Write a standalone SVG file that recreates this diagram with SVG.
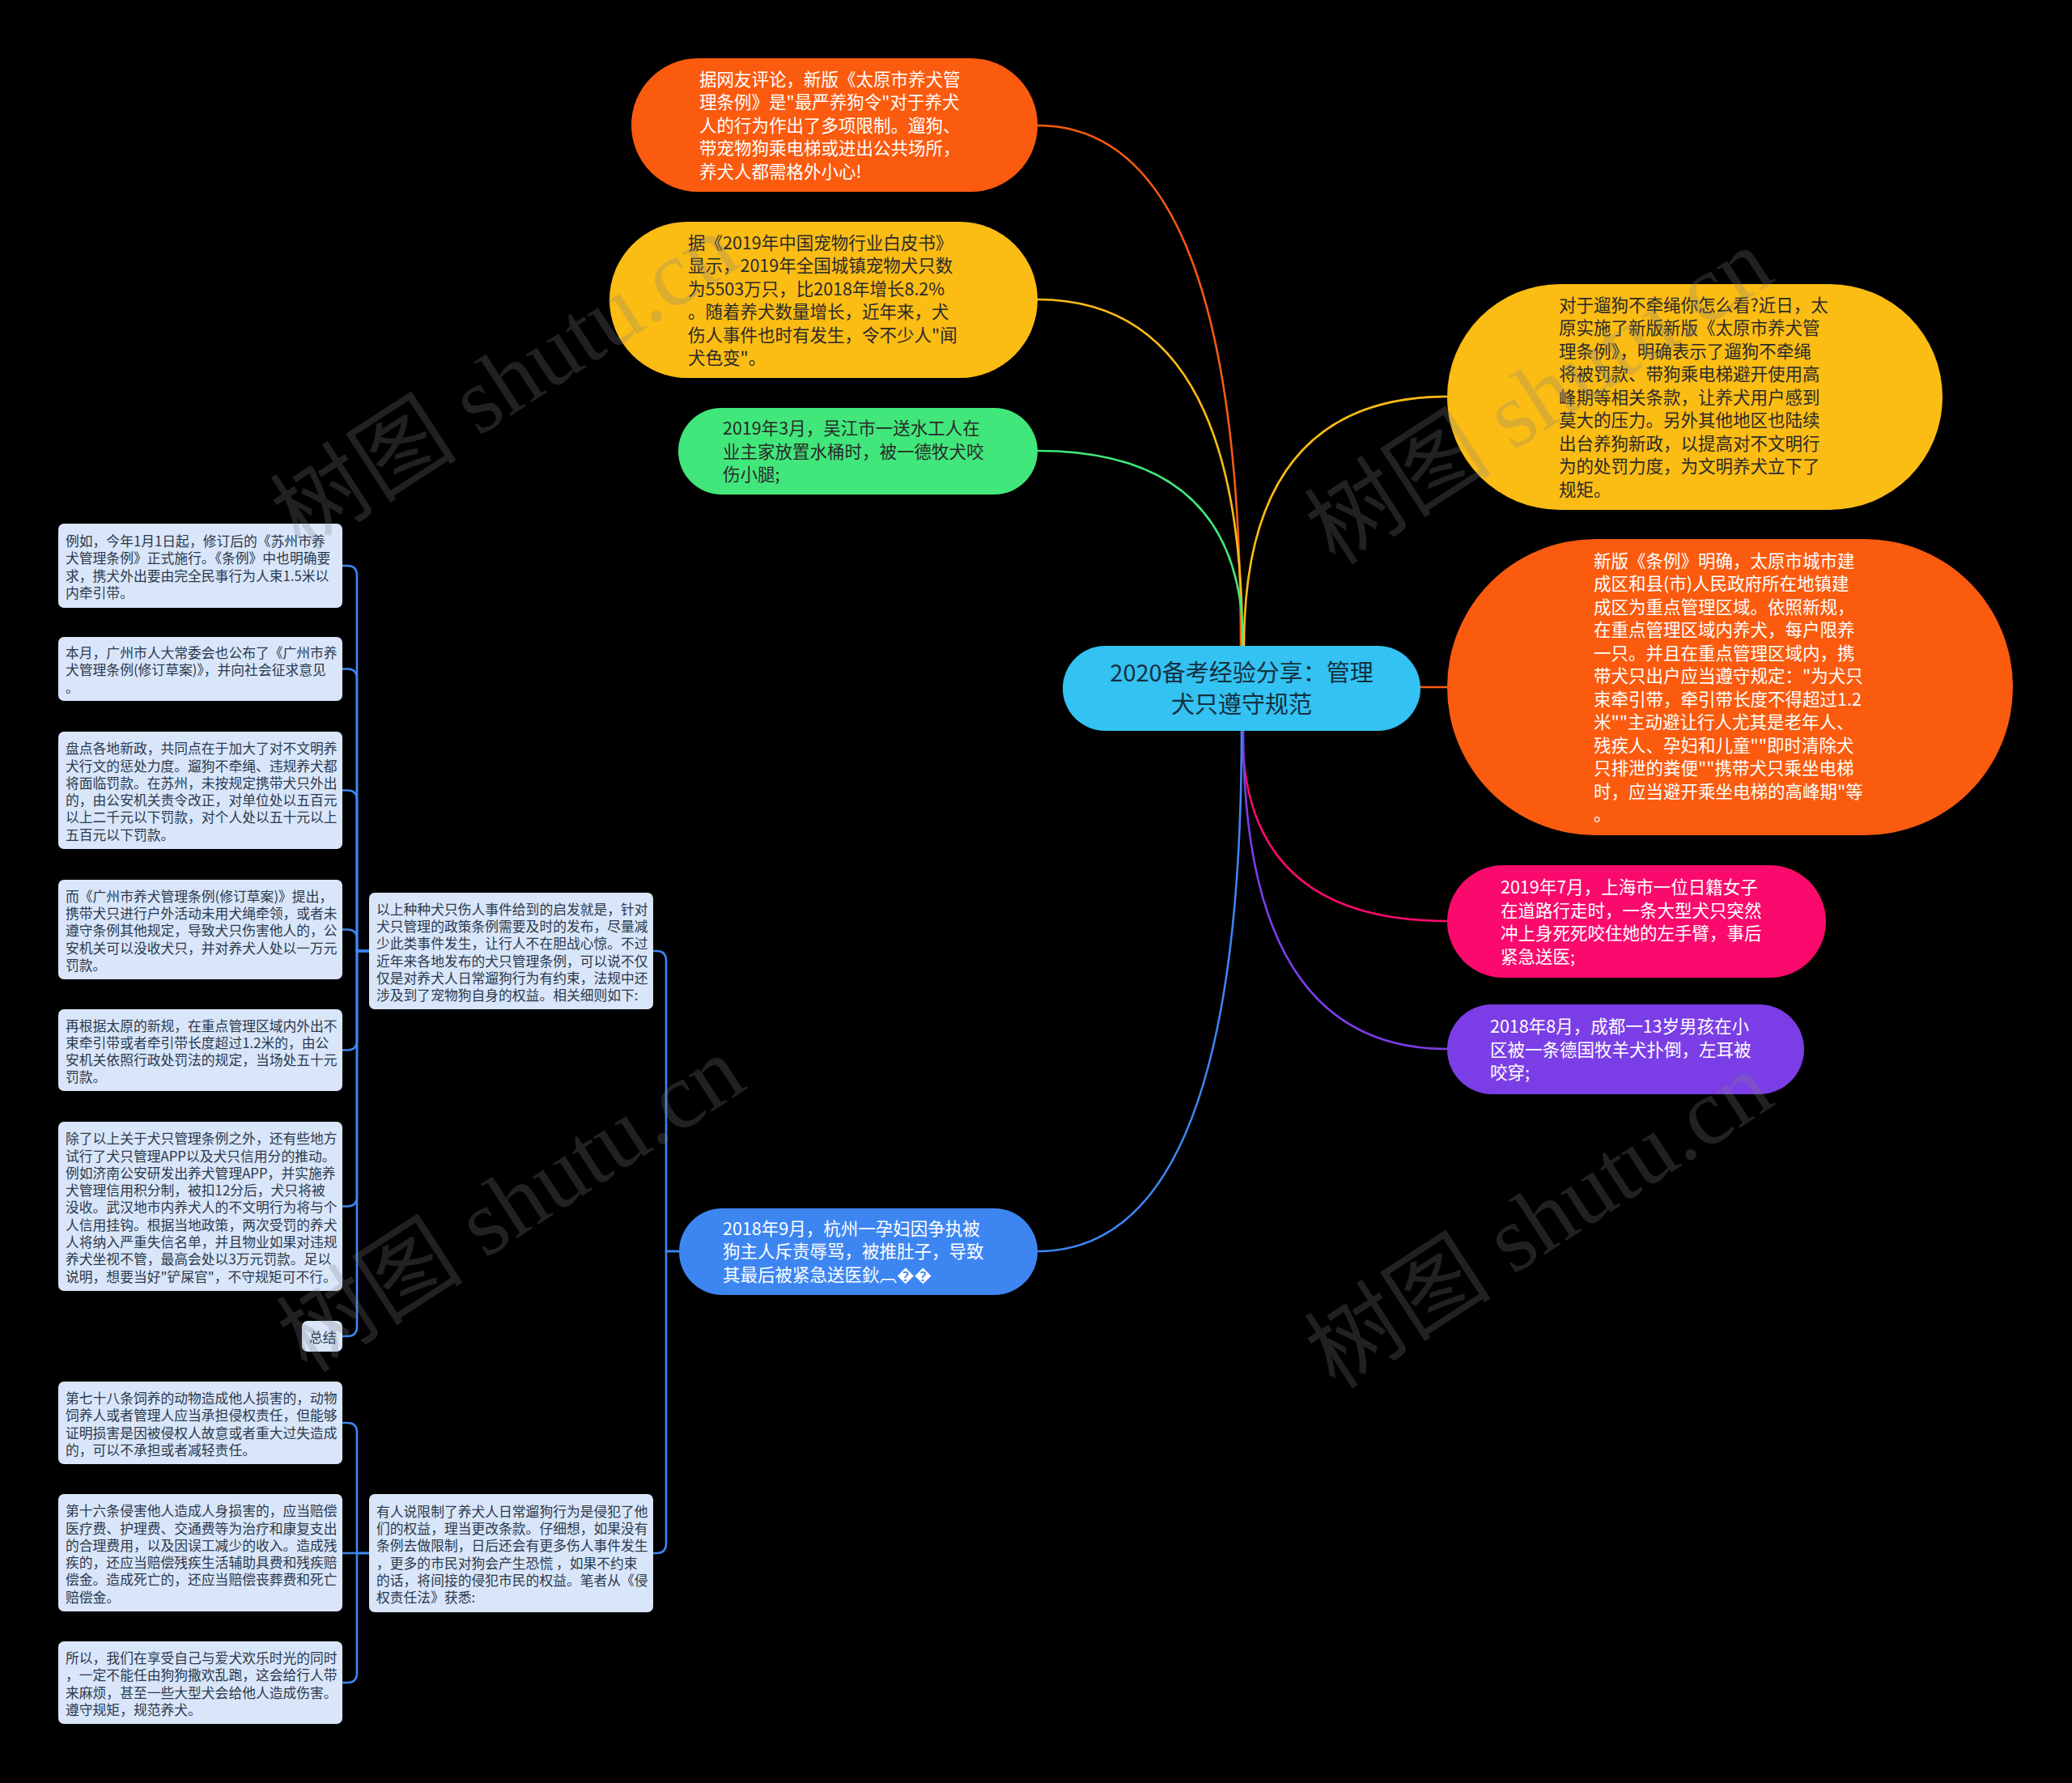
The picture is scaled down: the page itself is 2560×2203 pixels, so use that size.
<svg xmlns="http://www.w3.org/2000/svg" width="2560" height="2203" viewBox="0 0 2560 2203">
<style>
.t{font-family:"Noto Sans CJK SC","Noto Sans",sans-serif}
.big{font-size:21.5px}
.sm{font-size:16.8px;fill:#2b394c}
.lb{fill:#d9e6fa}
.w{fill:#ffffff}
.d{fill:#2a2a2a}
.c{fill:none;stroke-width:2.6;stroke-linecap:round}
.bl{fill:none;stroke:#3d86f2;stroke-width:2.6}
.wm{font-family:"Liberation Serif","Noto Sans CJK SC",serif;font-size:116px;fill:#808080;opacity:0.26}
</style>
<rect x="0" y="0" width="2560" height="2203" fill="#000000"/>

<g id="connectors">
<path class="c" stroke="#fa5b0f" d="M1282,155 Q1533,155 1533,798"/>
<path class="c" stroke="#fbbc14" d="M1282,370 Q1535,370 1535,798"/>
<path class="c" stroke="#41e77b" d="M1282,557 Q1536,557 1536,798"/>
<path class="c" stroke="#fbbc14" d="M1788,490 Q1537,490 1537,798"/>
<path class="c" stroke="#fa5b0f" d="M1755,849 L1788,849"/>
<path class="c" stroke="#fa0a6c" d="M1535,903 Q1535,1138 1788,1138"/>
<path class="c" stroke="#7b3ee6" d="M1536,903 Q1536,1296 1788,1296"/>
<path class="c" stroke="#3d86f2" d="M1534,903 Q1534,1546 1282,1546"/>
<path class="bl" d="M839,1546 H823 V1187 Q823,1175 811,1175 H807"/>
<path class="bl" d="M839,1546 H823 V1907 Q823,1919 811,1919 H807"/>
<path class="bl" d="M456,1175 H441 V711 Q441,699 429,699 H423"/>
<path class="bl" d="M456,1175 H441 V838.5 Q441,826.5 429,826.5 H423"/>
<path class="bl" d="M456,1175 H441 V988.5 Q441,976.5 429,976.5 H423"/>
<path class="bl" d="M456,1175 H441 V1160.5 Q441,1148.5 429,1148.5 H423"/>
<path class="bl" d="M456,1175 H441 V1285.5 Q441,1297.5 429,1297.5 H423"/>
<path class="bl" d="M456,1175 H441 V1478.5 Q441,1490.5 429,1490.5 H423"/>
<path class="bl" d="M456,1175 H441 V1639 Q441,1651 429,1651 H423"/>
<path class="bl" d="M456,1919 H441 V1770 Q441,1758 429,1758 H423"/>
<path class="bl" d="M456,1919 H423"/>
<path class="bl" d="M456,1919 H441 V2067 Q441,2079 429,2079 H423"/>
</g>

<g id="center">
<rect x="1313" y="798" width="442" height="105" rx="52.5" fill="#33c2f2"/>
<text class="t" font-size="29" fill="#15303f" text-anchor="middle"><tspan x="1534" y="842">2020备考经验分享：管理</tspan><tspan x="1534" y="881">犬只遵守规范</tspan></text>
</g>

<g id="n1">
<rect x="780" y="72" width="502" height="165" rx="82.5" fill="#fa5b0f"/>
<text class="t big w"><tspan x="864" y="105.7">据网友评论，新版《太原市养犬管</tspan><tspan x="864" y="134.2">理条例》是"最严养狗令"对于养犬</tspan><tspan x="864" y="162.7">人的行为作出了多项限制。遛狗、</tspan><tspan x="864" y="191.2">带宠物狗乘电梯或进出公共场所，</tspan><tspan x="864" y="219.7">养犬人都需格外小心!</tspan></text>
</g>

<g id="n2">
<rect x="753" y="274" width="529" height="193" rx="96.5" fill="#fbbc14"/>
<text class="t big d"><tspan x="850" y="307.5">据《2019年中国宠物行业白皮书》</tspan><tspan x="850" y="336">显示，2019年全国城镇宠物犬只数</tspan><tspan x="850" y="364.5">为5503万只，比2018年增长8.2%</tspan><tspan x="850" y="393">。随着养犬数量增长，近年来，犬</tspan><tspan x="850" y="421.5">伤人事件也时有发生，令不少人"闻</tspan><tspan x="850" y="450">犬色变"。</tspan></text>
</g>

<g id="n3">
<rect x="838" y="504" width="444" height="107" rx="53.5" fill="#41e77b"/>
<text class="t big d"><tspan x="893" y="537.2">2019年3月，吴江市一送水工人在</tspan><tspan x="893" y="565.7">业主家放置水桶时，被一德牧犬咬</tspan><tspan x="893" y="594.2">伤小腿;</tspan></text>
</g>

<g id="r1">
<rect x="1788" y="351" width="612" height="279" rx="139.5" fill="#fbbc14"/>
<text class="t big d"><tspan x="1926" y="384.7">对于遛狗不牵绳你怎么看?近日，太</tspan><tspan x="1926" y="413.2">原实施了新版新版《太原市养犬管</tspan><tspan x="1926" y="441.7">理条例》，明确表示了遛狗不牵绳</tspan><tspan x="1926" y="470.2">将被罚款、带狗乘电梯避开使用高</tspan><tspan x="1926" y="498.7">峰期等相关条款，让养犬用户感到</tspan><tspan x="1926" y="527.2">莫大的压力。另外其他地区也陆续</tspan><tspan x="1926" y="555.7">出台养狗新政，以提高对不文明行</tspan><tspan x="1926" y="584.2">为的处罚力度，为文明养犬立下了</tspan><tspan x="1926" y="612.7">规矩。</tspan></text>
</g>

<g id="r2">
<rect x="1788" y="666" width="699" height="366" rx="183" fill="#fa5b0f"/>
<text class="t big w"><tspan x="1969" y="700.5">新版《条例》明确，太原市城市建</tspan><tspan x="1969" y="729">成区和县(市)人民政府所在地镇建</tspan><tspan x="1969" y="757.5">成区为重点管理区域。依照新规，</tspan><tspan x="1969" y="786">在重点管理区域内养犬，每户限养</tspan><tspan x="1969" y="814.5">一只。并且在重点管理区域内，携</tspan><tspan x="1969" y="843">带犬只出户应当遵守规定："为犬只</tspan><tspan x="1969" y="871.5">束牵引带，牵引带长度不得超过1.2</tspan><tspan x="1969" y="900">米""主动避让行人尤其是老年人、</tspan><tspan x="1969" y="928.5">残疾人、孕妇和儿童""即时清除犬</tspan><tspan x="1969" y="957">只排泄的粪便""携带犬只乘坐电梯</tspan><tspan x="1969" y="985.5">时，应当避开乘坐电梯的高峰期"等</tspan><tspan x="1969" y="1014">。</tspan></text>
</g>

<g id="r3">
<rect x="1788" y="1069" width="468" height="139" rx="69.5" fill="#fa0a6c"/>
<text class="t big w"><tspan x="1854" y="1104">2019年7月，上海市一位日籍女子</tspan><tspan x="1854" y="1132.5">在道路行走时，一条大型犬只突然</tspan><tspan x="1854" y="1161">冲上身死死咬住她的左手臂，事后</tspan><tspan x="1854" y="1189.5">紧急送医;</tspan></text>
</g>

<g id="r4">
<rect x="1788" y="1241" width="441" height="111" rx="55.5" fill="#7b3ee6"/>
<text class="t big w"><tspan x="1841" y="1276.2">2018年8月，成都一13岁男孩在小</tspan><tspan x="1841" y="1304.7">区被一条德国牧羊犬扑倒，左耳被</tspan><tspan x="1841" y="1333.2">咬穿;</tspan></text>
</g>

<g id="b1">
<rect x="839" y="1493" width="443" height="107" rx="53.5" fill="#3d86f2"/>
<text class="t big w"><tspan x="893" y="1525.7">2018年9月，杭州一孕妇因争执被</tspan><tspan x="893" y="1554.2">狗主人斥责辱骂，被推肚子，导致</tspan><tspan x="893" y="1582.7">其最后被紧急送医鈥︹��</tspan></text>
</g>

<g id="m1">
<rect class="lb" x="456" y="1103" width="351" height="144" rx="7"/>
<text class="t sm"><tspan x="465" y="1129.7">以上种种犬只伤人事件给到的启发就是，针对</tspan><tspan x="465" y="1151">犬只管理的政策条例需要及时的发布，尽量减</tspan><tspan x="465" y="1172.3">少此类事件发生，让行人不在胆战心惊。不过</tspan><tspan x="465" y="1193.6">近年来各地发布的犬只管理条例，可以说不仅</tspan><tspan x="465" y="1214.9">仅是对养犬人日常遛狗行为有约束，法规中还</tspan><tspan x="465" y="1236.2">涉及到了宠物狗自身的权益。相关细则如下:</tspan></text>
</g>

<g id="m2">
<rect class="lb" x="456" y="1846" width="351" height="146" rx="7"/>
<text class="t sm"><tspan x="465" y="1873.7">有人说限制了养犬人日常遛狗行为是侵犯了他</tspan><tspan x="465" y="1895">们的权益，理当更改条款。仔细想，如果没有</tspan><tspan x="465" y="1916.3">条例去做限制，日后还会有更多伤人事件发生</tspan><tspan x="465" y="1937.6">，更多的市民对狗会产生恐慌 ，如果不约束</tspan><tspan x="465" y="1958.9">的话，将间接的侵犯市民的权益。笔者从《侵</tspan><tspan x="465" y="1980.2">权责任法》获悉:</tspan></text>
</g>

<g id="l1">
<rect class="lb" x="72" y="647" width="351" height="104" rx="7"/>
<text class="t sm"><tspan x="81" y="675">例如，今年1月1日起，修订后的《苏州市养</tspan><tspan x="81" y="696.3">犬管理条例》正式施行。《条例》中也明确要</tspan><tspan x="81" y="717.6">求，携犬外出要由完全民事行为人束1.5米以</tspan><tspan x="81" y="738.9">内牵引带。</tspan></text>
</g>

<g id="l2">
<rect class="lb" x="72" y="787" width="351" height="79" rx="7"/>
<text class="t sm"><tspan x="81" y="813.1">本月，广州市人大常委会也公布了《广州市养</tspan><tspan x="81" y="834.4">犬管理条例(修订草案)》，并向社会征求意见</tspan><tspan x="81" y="855.7">。</tspan></text>
</g>

<g id="l3">
<rect class="lb" x="72" y="904" width="351" height="145" rx="7"/>
<text class="t sm"><tspan x="81" y="931.2">盘点各地新政，共同点在于加大了对不文明养</tspan><tspan x="81" y="952.5">犬行文的惩处力度。遛狗不牵绳、违规养犬都</tspan><tspan x="81" y="973.8">将面临罚款。在苏州，未按规定携带犬只外出</tspan><tspan x="81" y="995.1">的，由公安机关责令改正，对单位处以五百元</tspan><tspan x="81" y="1016.4">以上二千元以下罚款，对个人处以五十元以上</tspan><tspan x="81" y="1037.7">五百元以下罚款。</tspan></text>
</g>

<g id="l4">
<rect class="lb" x="72" y="1087" width="351" height="123" rx="7"/>
<text class="t sm"><tspan x="81" y="1113.8">而《广州市养犬管理条例(修订草案)》提出，</tspan><tspan x="81" y="1135.1">携带犬只进行户外活动未用犬绳牵领，或者未</tspan><tspan x="81" y="1156.4">遵守条例其他规定，导致犬只伤害他人的，公</tspan><tspan x="81" y="1177.7">安机关可以没收犬只，并对养犬人处以一万元</tspan><tspan x="81" y="1199">罚款。</tspan></text>
</g>

<g id="l5">
<rect class="lb" x="72" y="1247" width="351" height="101" rx="7"/>
<text class="t sm"><tspan x="81" y="1273.5">再根据太原的新规，在重点管理区域内外出不</tspan><tspan x="81" y="1294.8">束牵引带或者牵引带长度超过1.2米的，由公</tspan><tspan x="81" y="1316.1">安机关依照行政处罚法的规定，当场处五十元</tspan><tspan x="81" y="1337.4">罚款。</tspan></text>
</g>

<g id="l6">
<rect class="lb" x="72" y="1386" width="351" height="209" rx="7"/>
<text class="t sm"><tspan x="81" y="1413.2">除了以上关于犬只管理条例之外，还有些地方</tspan><tspan x="81" y="1434.5">试行了犬只管理APP以及犬只信用分的推动。</tspan><tspan x="81" y="1455.8">例如济南公安研发出养犬管理APP，并实施养</tspan><tspan x="81" y="1477.1">犬管理信用积分制，被扣12分后，犬只将被</tspan><tspan x="81" y="1498.4">没收。武汉地市内养犬人的不文明行为将与个</tspan><tspan x="81" y="1519.7">人信用挂钩。根据当地政策，两次受罚的养犬</tspan><tspan x="81" y="1541">人将纳入严重失信名单，并且物业如果对违规</tspan><tspan x="81" y="1562.3">养犬坐视不管，最高会处以3万元罚款。足以</tspan><tspan x="81" y="1583.6">说明，想要当好"铲屎官"，不守规矩可不行。</tspan></text>
</g>

<g id="l7">
<rect class="lb" x="373" y="1632" width="50" height="38" rx="7"/>
<text class="t sm" x="382" y="1658.9">总结</text>
</g>

<g id="l8">
<rect class="lb" x="72" y="1707" width="351" height="102" rx="7"/>
<text class="t sm"><tspan x="81" y="1734">第七十八条饲养的动物造成他人损害的，动物</tspan><tspan x="81" y="1755.3">饲养人或者管理人应当承担侵权责任，但能够</tspan><tspan x="81" y="1776.6">证明损害是因被侵权人故意或者重大过失造成</tspan><tspan x="81" y="1797.9">的，可以不承担或者减轻责任。</tspan></text>
</g>

<g id="l9">
<rect class="lb" x="72" y="1846" width="351" height="145" rx="7"/>
<text class="t sm"><tspan x="81" y="1873.2">第十六条侵害他人造成人身损害的，应当赔偿</tspan><tspan x="81" y="1894.5">医疗费、护理费、交通费等为治疗和康复支出</tspan><tspan x="81" y="1915.8">的合理费用，以及因误工减少的收入。造成残</tspan><tspan x="81" y="1937.1">疾的，还应当赔偿残疾生活辅助具费和残疾赔</tspan><tspan x="81" y="1958.4">偿金。造成死亡的，还应当赔偿丧葬费和死亡</tspan><tspan x="81" y="1979.7">赔偿金。</tspan></text>
</g>

<g id="l10">
<rect class="lb" x="72" y="2028" width="351" height="102" rx="7"/>
<text class="t sm"><tspan x="81" y="2055">所以，我们在享受自己与爱犬欢乐时光的同时</tspan><tspan x="81" y="2076.3">，一定不能任由狗狗撒欢乱跑，这会给行人带</tspan><tspan x="81" y="2097.6">来麻烦，甚至一些大型犬会给他人造成伤害。</tspan><tspan x="81" y="2118.9">遵守规矩，规范养犬。</tspan></text>
</g>

<g id="watermarks">
<text class="wm" transform="translate(372,682) rotate(-33)">树图 shutu.cn</text>
<text class="wm" transform="translate(1650,700) rotate(-33)">树图 shutu.cn</text>
<text class="wm" transform="translate(380,1698) rotate(-33)">树图 shutu.cn</text>
<text class="wm" transform="translate(1650,1718) rotate(-33)">树图 shutu.cn</text>
</g>
</svg>
